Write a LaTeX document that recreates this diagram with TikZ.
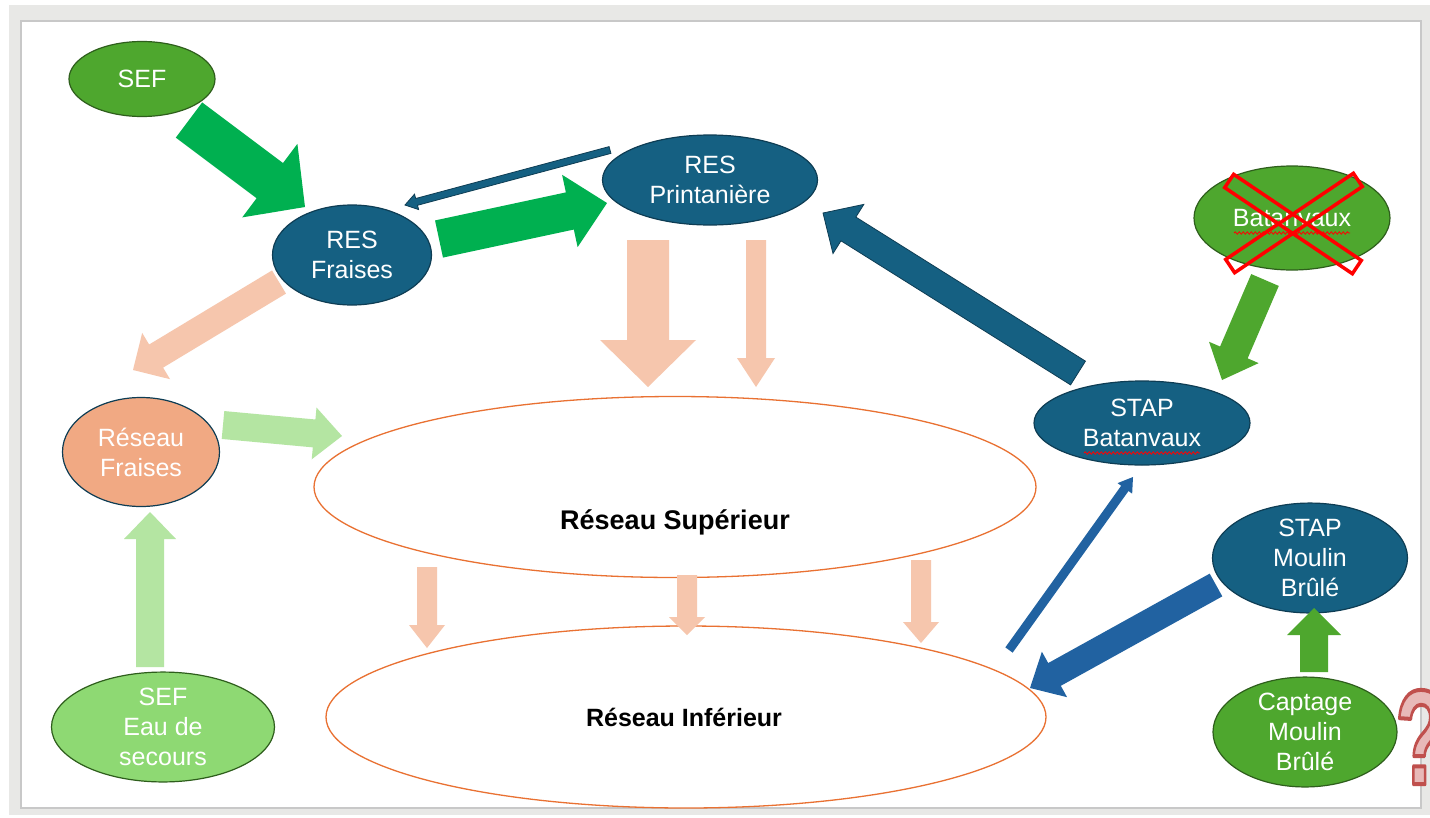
\documentclass[tikz,border=0pt]{standalone}
\usepackage{fontspec}
\setmainfont{Liberation Sans}
\usetikzlibrary{shapes.geometric,calc,decorations.pathmorphing}

\definecolor{nodeblue}{HTML}{156082}
\definecolor{blueline}{HTML}{0E3D54}
\definecolor{nodegreen}{HTML}{4EA72E}
\definecolor{greenline}{HTML}{2E5E1C}
\definecolor{lightgreen}{HTML}{8ED973}
\definecolor{salmon}{HTML}{F1A983}
\definecolor{brightgreen}{HTML}{00B050}
\definecolor{palegreen}{HTML}{B4E5A2}
\definecolor{peach}{HTML}{F6C6AD}
\definecolor{arrowblue}{HTML}{2162A1}
\definecolor{orangeline}{HTML}{E97132}
\definecolor{framegrey}{HTML}{E8E8E6}
\definecolor{frameline}{HTML}{C8C8C8}
\definecolor{qpink}{HTML}{E8B9B8}

% outlined glyph: pink fill, red stroke
\newcommand{\outlined}[1]{{\color{qpink}\special{pdf:literal direct 0.753 0.314 0.302 RG 4 w 1 j 2 Tr}#1\special{pdf:literal direct 0 Tr}}}

% block arrow: style, from, to, half shaft, half head, head length
\newcommand{\barrow}[6]{%
  \coordinate (hb) at ($(#3)!#6pt!(#2)$);
  \path[#1] ($(#2)!#4pt!90:(#3)$) -- ($(hb)!#4pt!90:(#3)$) -- ($(hb)!#5pt!90:(#3)$) -- (#3)
    -- ($(hb)!#5pt!-90:(#3)$) -- ($(hb)!#4pt!-90:(#3)$) -- ($(#2)!#4pt!-90:(#3)$) -- cycle;}

\begin{document}
\begin{tikzpicture}[x=1pt,y=-1pt,
  font=\fontsize{25}{30}\selectfont,
  blob/.style={ellipse, inner sep=0pt, line width=1.2pt, text=white, align=center},
  bluenode/.style={blob, fill=nodeblue, draw=blueline},
  greennode/.style={blob, fill=nodegreen, draw=greenline},
  reseau/.style={ellipse, inner sep=0pt, draw=orangeline, line width=1.3pt, fill=white},
  titre/.style={font=\bfseries\fontsize{25}{30}\selectfont, text=black},
  crossbar/.style={draw=red, line width=3.5pt},
  spell/.style={draw=red, line width=0.8pt, decorate, decoration={snake, amplitude=1.2pt, segment length=4pt}}]
\useasboundingbox (0,0) rectangle (1430,817);
\fill[framegrey] (9,5) rectangle (1430,815);
\draw[fill=white, draw=frameline, line width=1.5pt] (21,21) rectangle (1421,808);

\node[reseau, minimum width=722pt, minimum height=181pt] (sup) at (675,487) {};
\node[titre, font=\bfseries\fontsize{27}{30}\selectfont] (sup-t) at (675,522) {Réseau Supérieur};
\node[reseau, minimum width=720pt, minimum height=182pt] (inf) at (686,717) {};
\node[titre] (inf-t) at (684,717) {Réseau Inférieur};

\node[greennode, minimum width=146pt, minimum height=75pt] (sef) at (142,79) {SEF};
\node[bluenode, minimum width=159pt, minimum height=100pt] (resf) at (352,255) {RES\\Fraises};
\node[bluenode, minimum width=215pt, minimum height=90pt] (resp) at (710,180) {RES\\Printanière};
\node[greennode, minimum width=196pt, minimum height=104pt] (bat) at (1292,218) {Batanvaux};
\node[bluenode, minimum width=216pt, minimum height=84pt] (stapb) at (1142,423) {STAP\\Batanvaux};
\node[bluenode, minimum width=195pt, minimum height=90pt] (stapm) at (1310,558) {STAP\\Moulin\\Brûlé};
\node[greennode, minimum width=184pt, minimum height=106pt] (capt) at (1305,732) {Captage\\Moulin\\Brûlé};
\node[blob, fill=salmon, draw=blueline, minimum width=157pt, minimum height=109pt] (rf) at (141,452) {Réseau\\Fraises};
\node[blob, fill=lightgreen, draw=greenline, minimum width=223pt, minimum height=95pt] (eau) at (163,727) {SEF\\Eau de\\secours};

\draw[spell] ($(bat)+(-58,15)$) -- ($(bat)+(58,15)$);
\draw[spell] ($(stapb)+(-58,30)$) -- ($(stapb)+(58,30)$);
\draw[crossbar, rotate around={-34:(1293,224)}] (1216,216) rectangle (1370,232);
\draw[crossbar, rotate around={34:(1294,223)}] (1217,215) rectangle (1371,231);

\node[inner sep=0pt, font=\bfseries\fontsize{135}{135}\selectfont] (qm) at (1421,737) {\scalebox{0.62}[1]{\outlined{?}}};

\coordinate (sef-o) at (189,120);   \coordinate (resf-i) at (305,207);
\coordinate (resf-o) at (439,239);  \coordinate (resp-i) at (607,203);
\coordinate (resp-o) at (610,150);  \coordinate (resf-i2) at (405,205);
\coordinate (resf-o2) at (279,282); \coordinate (rf-i) at (133,370);
\coordinate (rf-o) at (223,425);    \coordinate (sup-i) at (342,436);
\coordinate (eau-o) at (150,667);   \coordinate (rf-i2) at (150,512);
\coordinate (resp-o2) at (648,240); \coordinate (sup-i2) at (648,387);
\coordinate (resp-o3) at (756,240); \coordinate (sup-i3) at (756,387);
\coordinate (sup-o1) at (427,567);  \coordinate (inf-i1) at (427,648);
\coordinate (sup-o2) at (687,575);  \coordinate (inf-i2) at (687,635);
\coordinate (sup-o3) at (921,560);  \coordinate (inf-i3) at (921,643);
\coordinate (stapb-o) at (1078,373); \coordinate (resp-i2) at (823,213);
\coordinate (bat-o) at (1265,280);  \coordinate (stapb-i) at (1222,380);
\coordinate (inf-o) at (1009,650);  \coordinate (stapb-i2) at (1133,477);
\coordinate (stapm-o) at (1216,585); \coordinate (inf-i) at (1030,688);
\coordinate (capt-o) at (1314,672); \coordinate (stapm-i) at (1314,608);

\barrow{fill=brightgreen}{sef-o}{resf-i}{22}{46}{44}
\barrow{fill=brightgreen}{resf-o}{resp-i}{19}{37}{38}
\barrow{fill=nodeblue, draw=blueline, line width=0.8pt}{resp-o}{resf-i2}{3.5}{8}{12}
\barrow{fill=peach}{resf-o2}{rf-i}{13.5}{27}{27}
\barrow{fill=palegreen}{rf-o}{sup-i}{14}{26}{28}
\barrow{fill=palegreen}{eau-o}{rf-i2}{14}{26}{27}
\barrow{fill=peach}{resp-o2}{sup-i2}{21}{48}{47}
\barrow{fill=peach}{resp-o3}{sup-i3}{10}{19}{29}
\barrow{fill=peach}{sup-o1}{inf-i1}{10}{18}{23}
\barrow{fill=peach}{sup-o2}{inf-i2}{10}{18}{18}
\barrow{fill=peach}{sup-o3}{inf-i3}{10}{18}{21}
\barrow{fill=nodeblue, draw=blueline, line width=0.8pt}{stapb-o}{resp-i2}{14}{29}{30}
\barrow{fill=nodegreen}{bat-o}{stapb-i}{15}{27}{30}
\barrow{fill=arrowblue}{inf-o}{stapb-i2}{4.5}{9}{14}
\barrow{fill=arrowblue}{stapm-o}{inf-i}{13}{26}{28}
\barrow{fill=nodegreen}{capt-o}{stapm-i}{14}{27}{27}
\end{tikzpicture}
\end{document}
